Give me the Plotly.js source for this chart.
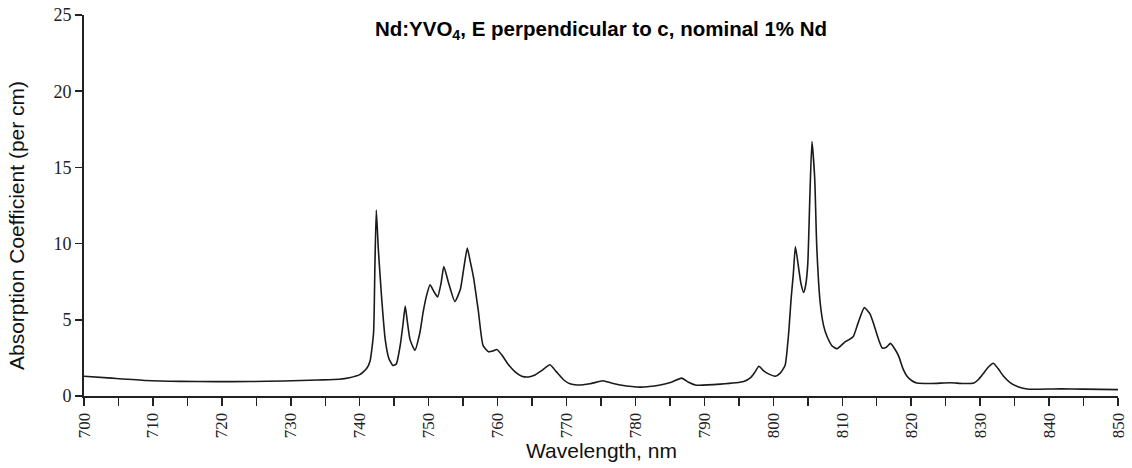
<!DOCTYPE html>
<html>
<head>
<meta charset="utf-8">
<script src="https://cdn.plot.ly/plotly-3.0.1.min.js"></script>
<style>html,body{margin:0;padding:0;background:#fff;}#chart{width:1132px;height:468px;}</style>
</head>
<body>
<div id="chart"></div>
<script>
const wavelength = [700, 704, 709, 714, 719, 724, 729, 734, 737, 738.5, 740, 741, 741.5, 742, 742.2, 742.4, 742.7, 743.2, 743.7, 744.2, 744.8, 745.3, 745.9, 746.3, 746.6, 746.9, 747.3, 748.0, 748.7, 749.2, 749.7, 750.2, 750.7, 751.3, 751.8, 752.2, 752.9, 753.8, 754.6, 755.1, 755.6, 756.0, 756.5, 757.2, 757.9, 758.7, 759.3, 759.9, 760.6, 761.5, 762.5, 763.5, 764.5, 765.5, 766.5, 767.6, 768.5, 769.6, 770.5, 771.5, 773.4, 775.3, 776.5, 777.8, 780.7, 783.6, 785.2, 786.7, 787.7, 788.7, 792.3, 795.7, 796.7, 797.3, 797.9, 798.6, 799.3, 800.3, 801.0, 801.7, 802.2, 802.6, 802.9, 803.2, 803.7, 804.0, 804.4, 804.7, 805.0, 805.3, 805.6, 806.0, 806.3, 806.8, 807.3, 807.8, 808.5, 809.2, 809.8, 810.4, 811.0, 811.6, 812.3, 813.2, 814.0, 814.5, 815.2, 815.8, 816.4, 817.0, 817.6, 818.2, 818.8, 819.4, 820.1, 820.8, 823, 825.7, 827.5, 829.1, 829.8, 830.5, 831.2, 831.9, 832.6, 833.4, 834.3, 835.4, 836.8, 838, 841.7, 845, 850];
const absorption = [1.3, 1.17, 1.02, 0.96, 0.94, 0.95, 0.98, 1.05, 1.1, 1.2, 1.4, 1.8, 2.3, 4.1, 8.5, 12.2, 9.6, 6.3, 3.7, 2.5, 2.0, 2.1, 3.4, 4.8, 5.9, 4.9, 3.7, 3.0, 4.1, 5.5, 6.6, 7.3, 6.9, 6.5, 7.4, 8.5, 7.4, 6.2, 7.0, 8.4, 9.7, 8.9, 7.8, 5.6, 3.3, 2.9, 2.95, 3.05, 2.7, 2.1, 1.6, 1.3, 1.25, 1.4, 1.7, 2.05, 1.6, 1.05, 0.8, 0.72, 0.8, 1.0, 0.85, 0.72, 0.58, 0.72, 0.9, 1.17, 0.9, 0.72, 0.78, 0.95, 1.2, 1.55, 1.95, 1.65, 1.45, 1.3, 1.5, 2.0, 4.0, 6.5, 8.0, 9.8, 8.3, 7.4, 6.8, 7.3, 8.7, 13.1, 16.7, 14.3, 9.8, 6.1, 4.6, 3.9, 3.3, 3.1, 3.3, 3.55, 3.7, 3.9, 4.8, 5.8, 5.4, 4.8, 3.8, 3.15, 3.2, 3.45, 3.1, 2.6, 1.8, 1.3, 1.0, 0.85, 0.82, 0.87, 0.82, 0.85, 1.1, 1.5, 1.9, 2.15, 1.8, 1.3, 0.9, 0.62, 0.46, 0.44, 0.47, 0.45, 0.42];
const xTickVals = [700, 710, 720, 730, 740, 750, 760, 770, 780, 790, 800, 810, 820, 830, 840, 850];
const yTickVals = [0, 5, 10, 15, 20, 25];

const serif = "Liberation Serif, Times New Roman, serif";
const sans = "Liberation Sans, Arial, sans-serif";

const trace = {
  x: wavelength, y: absorption, type: 'scatter', mode: 'lines',
  line: {color: '#1a1a1a', width: 1.6, shape: 'spline', smoothing: 0.5},
  hoverinfo: 'skip'
};

const layout = {
  width: 1132, height: 468,
  margin: {l: 84, r: 14, t: 15, b: 72},
  paper_bgcolor: '#ffffff', plot_bgcolor: '#ffffff',
  showlegend: false,
  xaxis: {
    range: [700, 850], tickvals: xTickVals, ticktext: xTickVals.map(String),
    tickangle: -90, ticks: 'outside', ticklen: 8, tickwidth: 1.5, tickcolor: '#222',
    minor: {dtick: 5, tick0: 700, ticks: 'outside', ticklen: 8, tickwidth: 1.5, tickcolor: '#222', showgrid: false},
    showline: true, linecolor: '#222', linewidth: 2, showgrid: false, zeroline: false,
    tickfont: {family: serif, size: 17, color: '#222'}, fixedrange: true
  },
  yaxis: {
    range: [0, 25], tickvals: yTickVals, ticktext: yTickVals.map(String),
    ticks: 'outside', ticklen: 7, tickwidth: 1.5, tickcolor: '#222',
    showline: true, linecolor: '#222', linewidth: 2, showgrid: false, zeroline: false,
    tickfont: {family: serif, size: 18, color: '#222'}, fixedrange: true
  },
  title: {
    text: 'Nd:YVO<sub>4</sub>, E perpendicular to c, nominal 1% Nd',
    font: {family: sans, size: 20.5, color: '#000', weight: 'bold'},
    x: 0.5, xref: 'paper', xanchor: 'center',
    y: 1 - 29/468, yref: 'container', yanchor: 'middle'
  },
  annotations: [
    {text: 'Absorption Coefficient (per cm)', xref: 'paper', yref: 'paper',
     x: (16 - 84) / 1034, y: (396 - 226) / 381, xanchor: 'center', yanchor: 'middle',
     textangle: -90, showarrow: false, font: {family: sans, size: 21, color: '#111'}},
    {text: 'Wavelength, nm', xref: 'paper', yref: 'paper',
     x: (601 - 84) / 1034, y: (396 - 450) / 381, xanchor: 'center', yanchor: 'middle',
     showarrow: false, font: {family: sans, size: 21, color: '#111'}}
  ]
};

Plotly.newPlot('chart', [trace], layout, {displayModeBar: false, staticPlot: true});
</script>
</body>
</html>
